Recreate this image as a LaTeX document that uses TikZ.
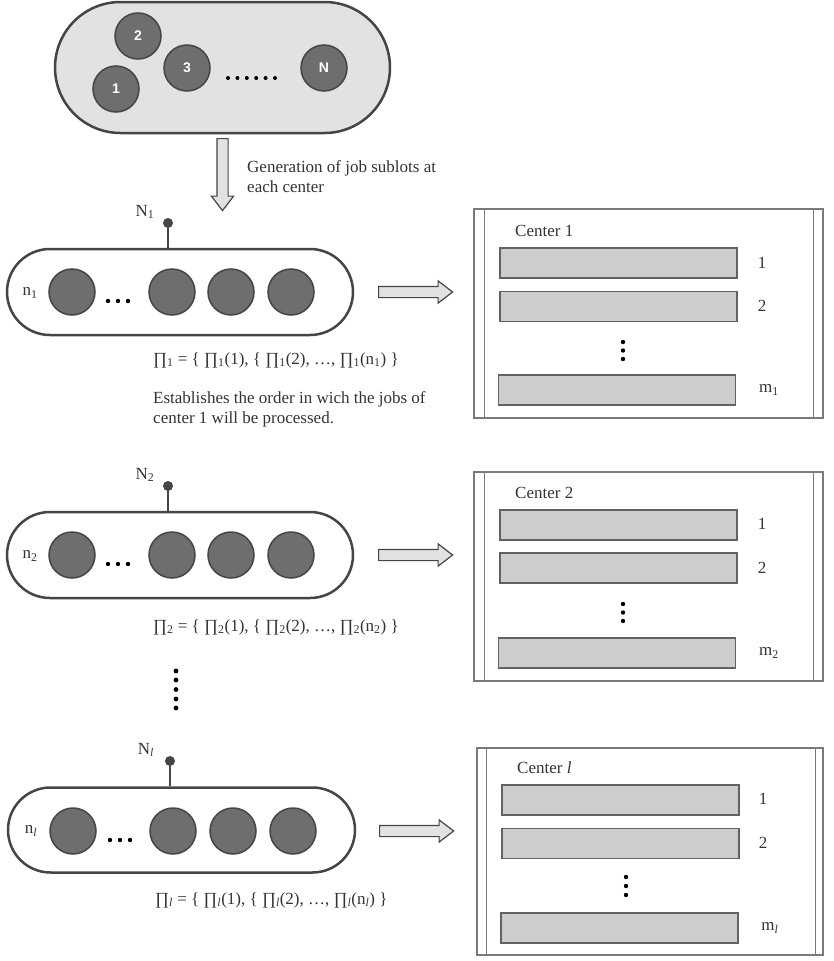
\documentclass[tikz,border=0pt]{standalone}
\usepackage{fontspec}
\setmainfont{Liberation Serif}
\newfontfamily\jobfont{Liberation Sans}
\usetikzlibrary{shapes.arrows,shapes.misc}

\definecolor{pillgray}{HTML}{E2E2E2}
\definecolor{jobgray}{HTML}{6E6E6E}
\definecolor{edgegray}{HTML}{454545}
\definecolor{bargray}{HTML}{CDCDCD}
\definecolor{boxgray}{HTML}{7A7A7A}
\definecolor{txtgray}{HTML}{333333}

\tikzset{
  pill/.style={rounded rectangle, draw=edgegray, line width=2.5pt, inner sep=0pt},
  job/.style={circle, draw=edgegray, fill=jobgray, line width=1.5pt, minimum size=46pt, inner sep=0pt, text=white, font=\jobfont\bfseries\fontsize{14}{16}\selectfont},
  bar/.style={draw=boxgray!80!black, fill=bargray, line width=1.5pt, minimum width=237pt, minimum height=30pt, inner sep=0pt},
  blockarrow/.style={single arrow, draw=edgegray, fill=pillgray, line width=1.2pt, inner sep=5pt, single arrow head extend=5.5pt, single arrow tip angle=75, minimum height=74pt},
  lbl/.style={text=txtgray, font=\fontsize{17}{20.5}\selectfont, inner sep=0pt},
  stick/.style={edgegray, line width=2.5pt},
  knob/.style={circle, fill=edgegray, inner sep=0pt, minimum size=10pt},
  centerbox/.style={draw=boxgray, line width=1.2pt, minimum width=349pt, minimum height=209pt, inner sep=0pt}
}

\begin{document}
\begin{tikzpicture}[x=1pt, y=-1pt]
\useasboundingbox (0,0) rectangle (833,961);

% all jobs
\node[pill, fill=pillgray, minimum width=335pt, minimum height=131pt] (all) at (222.5,67.5) {};
\node[job] (o1) at (116,89) {1};
\node[job] (o2) at (138,36) {2};
\node[job] (o3) at (187,68) {3};
\node[job] (oN) at (324,68) {N};
\foreach \x in {228,237.4,246.8,256.2,265.6,275} \fill[black] (\x,78) circle (2pt);

\node[blockarrow, shape border rotate=270, anchor=tail, minimum height=72pt] (down) at (222.5,138) {};
\node[lbl, anchor=north west, align=left] (gen) at (247,160) {Generation of job sublots at\\each center};

% center 1
\begin{scope}
  \node[pill, fill=white, minimum width=346pt, minimum height=86pt] (p) at (180,292) {};
  \node[lbl] (n) at (30,293) {n\textsubscript{1}};
  \node[job] (j1) at (72,292) {};
  \node[job] (j2) at (172,292) {};
  \node[job] (j3) at (231,292) {};
  \node[job] (j4) at (291,292) {};
  \foreach \x in {108,118,128} \fill[black] (\x,301) circle (2.2pt);
  \node[knob] (t) at (168,223) {};
  \draw[stick] (t) -- (t |- p.north);
  \node[lbl] (N) at (145,212) {N\textsubscript{1}};
  \node[blockarrow, anchor=tail] (r) at (378,292) {};
  \node[lbl, anchor=west] (pi) at (153,360) {∏\textsubscript{1} = \{ ∏\textsubscript{1}(1), \{ ∏\textsubscript{1}(2), …, ∏\textsubscript{1}(n\textsubscript{1}) \}};
  \node[lbl, anchor=north west, align=left] (est) at (153,391) {Establishes the order in wich the jobs of\\center 1 will be processed.};

  \node[centerbox] (c) at (648.5,313.5) {};
  \draw[boxgray, line width=1.2pt] ([xshift=11pt]c.north west) -- ([xshift=11pt]c.south west);
  \draw[boxgray, line width=1.2pt] ([xshift=-10pt]c.north east) -- ([xshift=-10pt]c.south east);
  \node[lbl, anchor=west] (ct) at (515,231) {Center 1};
  \node[bar] (b1) at (618.5,263) {};
  \node[bar] (b2) at (618.5,306.5) {};
  \node[bar] (bm) at (617,390) {};
  \node[lbl] (l1) at (762,263) {1};
  \node[lbl] (l2) at (762,306) {2};
  \node[lbl] (lm) at (769,390) {m\textsubscript{1}};
  \foreach \y in {342,350.5,359} \fill[black] (623,\y) circle (2.2pt);
\end{scope}

% center 2
\begin{scope}[yshift=-263pt]
  \node[pill, fill=white, minimum width=346pt, minimum height=86pt] (p) at (180,292) {};
  \node[lbl] (n) at (30,293) {n\textsubscript{2}};
  \node[job] (j1) at (72,292) {};
  \node[job] (j2) at (172,292) {};
  \node[job] (j3) at (231,292) {};
  \node[job] (j4) at (291,292) {};
  \foreach \x in {108,118,128} \fill[black] (\x,301) circle (2.2pt);
  \node[knob] (t) at (168,223) {};
  \draw[stick] (t) -- (t |- p.north);
  \node[lbl] (N) at (145,212) {N\textsubscript{2}};
  \node[blockarrow, anchor=tail] (r) at (378,292) {};
  \node[lbl, anchor=west] (pi) at (153,364) {∏\textsubscript{2} = \{ ∏\textsubscript{2}(1), \{ ∏\textsubscript{2}(2), …, ∏\textsubscript{2}(n\textsubscript{2}) \}};

  \node[centerbox] (c) at (648.5,313.5) {};
  \draw[boxgray, line width=1.2pt] ([xshift=11pt]c.north west) -- ([xshift=11pt]c.south west);
  \draw[boxgray, line width=1.2pt] ([xshift=-10pt]c.north east) -- ([xshift=-10pt]c.south east);
  \node[lbl, anchor=west] (ct) at (515,230) {Center 2};
  \node[bar] (b1) at (618.5,262) {};
  \node[bar] (b2) at (618.5,305) {};
  \node[bar] (bm) at (617,390) {};
  \node[lbl] (l1) at (762,261) {1};
  \node[lbl] (l2) at (762,305) {2};
  \node[lbl] (lm) at (769,390) {m\textsubscript{2}};
  \foreach \y in {341,349.5,358} \fill[black] (623,\y) circle (2.2pt);
\end{scope}

\foreach \y in {671,680,689.5,699,708} \fill[black] (176,\y) circle (2.4pt);

% center l
\begin{scope}[yshift=-538pt]
  \node[pill, fill=white, minimum width=347pt, minimum height=85pt] (p) at (181.5,292) {};
  \node[lbl] (n) at (31,293) {n\textsubscript{\textit{l}}};
  \node[job] (j1) at (73,293) {};
  \node[job] (j2) at (173,293) {};
  \node[job] (j3) at (233,293) {};
  \node[job] (j4) at (293,293) {};
  \foreach \x in {110,120,130} \fill[black] (\x,302) circle (2.2pt);
  \node[knob] (t) at (170,223) {};
  \draw[stick] (t) -- (t |- p.north);
  \node[lbl] (N) at (146,212) {N\textsubscript{\textit{l}}};
  \node[blockarrow, anchor=tail] (r) at (379,293) {};
  \node[lbl, anchor=west] (pi) at (155,362) {∏\textsubscript{\textit{l}} = \{ ∏\textsubscript{\textit{l}}(1), \{ ∏\textsubscript{\textit{l}}(2), …, ∏\textsubscript{\textit{l}}(n\textsubscript{\textit{l}}) \}};

  \node[centerbox, minimum width=346pt, minimum height=207pt] (c) at (650,313.5) {};
  \draw[boxgray, line width=1.2pt] ([xshift=10pt]c.north west) -- ([xshift=10pt]c.south west);
  \draw[boxgray, line width=1.2pt] ([xshift=-8pt]c.north east) -- ([xshift=-8pt]c.south east);
  \node[lbl, anchor=west] (ct) at (517,230) {Center \textit{l}};
  \node[bar] (b1) at (620.5,262) {};
  \node[bar] (b2) at (620.5,305.5) {};
  \node[bar] (bm) at (619.5,390) {};
  \node[lbl] (l1) at (763,261) {1};
  \node[lbl] (l2) at (763,305) {2};
  \node[lbl] (lm) at (770,390) {m\textsubscript{\textit{l}}};
  \foreach \y in {339,348,357} \fill[black] (626,\y) circle (2.2pt);
\end{scope}

\end{tikzpicture}
\end{document}
